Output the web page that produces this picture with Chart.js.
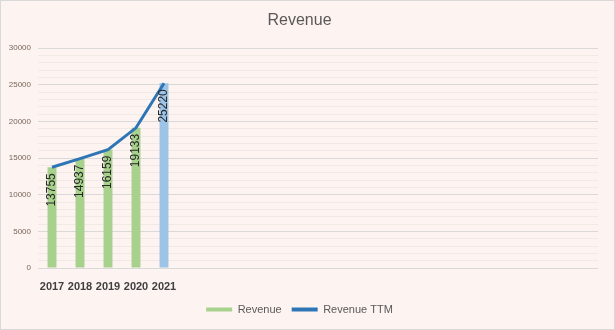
<!DOCTYPE html>
<html>
<head>
<meta charset="utf-8">
<script src="https://cdn.jsdelivr.net/npm/chart.js@4"></script>
<style>
  html, body { margin: 0; padding: 0; background: #ffffff; }
  #wrap { width: 615px; height: 330px; box-sizing: border-box; border: 1px solid #d9d9d9; background: #fdf3f0; }
</style>
</head>
<body>
<div id="wrap"><canvas id="revChart" width="613" height="328"></canvas></div>
<script>
// Dados anuais (eixo x com espaço vazio à direita)
const years = ['2017', '2018', '2019', '2020', '2021'];
const revenue = [13755, 14937, 16159, 19133, 25220];
const revenueTTM = [13755, 14937, 16159, 19133, 25220];
const emptySlots = 15;

const labels = years.concat(Array(emptySlots).fill(''));

const green = '#a9d18e';
const blue = '#9dc3e6';
const lineBlue = '#2e75b6';

// Rótulos de valor na vertical, dentro da barra
const barValueLabels = {
    id: 'barValueLabels',
    afterDatasetsDraw(chart) {
        const ctx = chart.ctx;
        const meta = chart.getDatasetMeta(0);
        ctx.save();
        ctx.font = '12px "Liberation Sans", Arial, sans-serif';
        ctx.fillStyle = '#262626';
        ctx.textAlign = 'right';
        ctx.textBaseline = 'middle';
        meta.data.forEach((bar, i) => {
            ctx.save();
            ctx.translate(bar.x, bar.y + 6);
            ctx.rotate(-Math.PI / 2);
            ctx.fillText(String(revenue[i]), 0, 0);
            ctx.restore();
        });
        ctx.restore();
    }
};

new Chart(document.getElementById('revChart'), {
    data: {
        labels: labels,
        datasets: [{
            type: 'bar',
            label: 'Revenue',
            data: revenue,
            order: 1,
            backgroundColor: (c) => c.dataIndex === 4 ? blue : green,
            categoryPercentage: 1,
            barPercentage: 0.32
        }, {
            type: 'line',
            label: 'Revenue TTM',
            data: revenueTTM,
            order: 0,
            borderColor: lineBlue,
            backgroundColor: lineBlue,
            borderWidth: 3,
            pointRadius: 0,
            tension: 0
        }]
    },
    options: {
        responsive: false,
        animation: false,
        layout: { padding: { left: 0, right: 16, top: 0, bottom: 4 } },
        scales: {
            x: {
                grid: { display: false },
                border: { display: false },
                ticks: {
                    autoSkip: false,
                    maxRotation: 0,
                    padding: 4,
                    color: '#404040',
                    font: { family: '"Liberation Sans", Arial, sans-serif', size: 11, weight: 'bold' }
                },
                afterFit: (s) => { s.height = 26; }
            },
            y: {
                min: 0,
                max: 30000,
                border: { display: false },
                grid: {
                    drawTicks: false,
                    color: (c) => c.tick.value % 5000 === 0 ? '#d9d9d9' : '#f1e9e6'
                },
                ticks: {
                    stepSize: 1000,
                    autoSkip: false,
                    padding: 7,
                    color: '#7a665c',
                    font: { family: '"Liberation Sans", Arial, sans-serif', size: 8 },
                    callback: (v) => v % 5000 === 0 ? v : ''
                },
                afterFit: (s) => { s.width = 37; }
            }
        },
        plugins: {
            title: {
                display: true,
                text: 'Revenue',
                color: '#595959',
                font: { family: '"Liberation Sans", Arial, sans-serif', size: 16, weight: 'normal', lineHeight: 1.2 },
                padding: { top: 10, bottom: 18 }
            },
            legend: {
                position: 'bottom',
                labels: {
                    color: '#595959',
                    font: { family: '"Liberation Sans", Arial, sans-serif', size: 11 },
                    boxWidth: 26,
                    boxHeight: 4,
                    padding: 10,
                    sort: (a, b) => a.datasetIndex - b.datasetIndex,
                    generateLabels(chart) {
                        const items = Chart.defaults.plugins.legend.labels.generateLabels(chart);
                        items.forEach(it => { it.lineWidth = 0; });
                        return items;
                    }
                }
            },
            tooltip: { enabled: false }
        }
    },
    plugins: [barValueLabels]
});
</script>
</body>
</html>
